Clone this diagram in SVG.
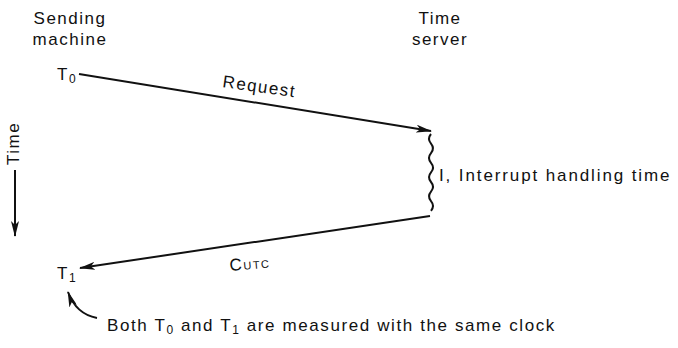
<svg xmlns="http://www.w3.org/2000/svg" width="678" height="348" viewBox="0 0 678 348">
<style>
text{font-family:"Liberation Sans",Arial,sans-serif;font-size:17px;fill:#111;letter-spacing:1.5px}
.ln{stroke:#111;stroke-width:2;fill:none}
</style>
<defs>
<marker id="ah" markerWidth="16" markerHeight="8" refX="15" refY="4" orient="auto" markerUnits="userSpaceOnUse">
<path d="M0,0 L16,4 L0,8 L4,4 Z" fill="#111"/>
</marker>
</defs>
<rect width="678" height="348" fill="#fff"/>
<g id="sending">
<text x="70" y="24" text-anchor="middle">Sending</text>
<text x="70" y="45" text-anchor="middle">machine</text>
</g>
<g id="server">
<text x="440" y="24" text-anchor="middle">Time</text>
<text x="440" y="45" text-anchor="middle">server</text>
</g>
<g id="t0"><text x="57" y="80">T<tspan font-size="12" dy="3">0</tspan></text></g>
<g id="t1"><text x="57" y="279">T<tspan font-size="12" dy="3">1</tspan></text></g>
<g id="interrupt"><text x="439" y="181" textLength="232" lengthAdjust="spacing">I, Interrupt handling time</text></g>
<g id="timeaxis">
<text transform="translate(19,165) rotate(-90)">Time</text>
</g>
<g id="note"><text x="107" y="331" style="letter-spacing:1.6px">Both T<tspan font-size="12" dy="3">0</tspan><tspan dy="-3"> and T</tspan><tspan font-size="12" dy="3">1</tspan><tspan dy="-3"> are measured with the same clock</tspan></text></g>
<g id="connectors">
<line class="ln" x1="79" y1="74" x2="431" y2="131" marker-end="url(#ah)"/>
<text transform="translate(222,87) rotate(8)">Request</text>
<path class="ln" stroke-width="1.6" d="M431,134 q-4,4.8 0,9.6 q4,4.8 0,9.6 q-4,4.8 0,9.6 q4,4.8 0,9.6 q-4,4.8 0,9.6 q4,4.8 0,9.6 q-4,4.8 0,9.6 q4,4.8 0,9.6"/>
<line class="ln" x1="430" y1="216" x2="80" y2="268" marker-end="url(#ah)"/>
<text transform="translate(230,271) rotate(-5)">C<tspan font-size="11">UTC</tspan></text>
<line class="ln" x1="15" y1="170" x2="15" y2="236" marker-end="url(#ah)"/>
<path class="ln" d="M97,318 Q76,314 68,292" marker-end="url(#ah)"/>
</g>
</svg>
